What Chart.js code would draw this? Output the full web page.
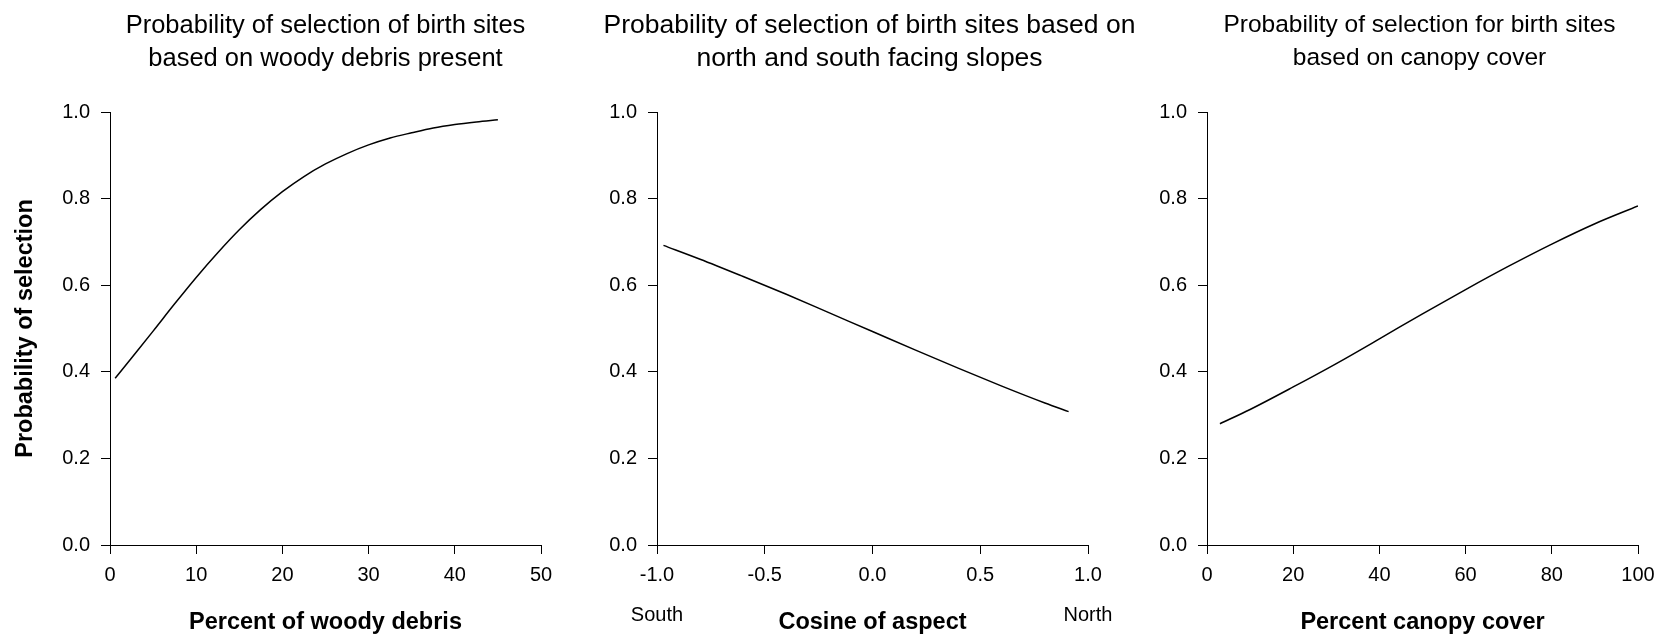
<!DOCTYPE html>
<html><head><meta charset="utf-8">
<script src="https://cdn.jsdelivr.net/npm/chart.js@4/dist/chart.umd.min.js"></script>
<style>
html,body{margin:0;padding:0;background:#fff;}
#wrap{position:relative;width:1667px;height:637px;overflow:hidden;}
#wrap canvas{position:absolute;left:0;top:0;}
</style></head><body>
<div id="wrap">
<canvas id="c1" width="1667" height="637"></canvas>
<canvas id="c2" width="1667" height="637"></canvas>
<canvas id="c3" width="1667" height="637"></canvas>
</div>
<script>
// ---- data ----
const woodyX = [0.6, 2.5, 5, 7.5, 10, 12.5, 15, 17.5, 20, 22.5, 25, 27.5, 30, 32.5, 35, 37.5, 40, 42.5, 45];
const woodyP = [0.385, 0.432, 0.494, 0.557, 0.618, 0.675, 0.728, 0.775, 0.816, 0.851, 0.880, 0.904, 0.924, 0.940, 0.952, 0.963, 0.971, 0.977, 0.982];

const aspectX = [-0.97, -0.8, -0.6, -0.4, -0.2, 0, 0.2, 0.4, 0.6, 0.8, 0.91];
const aspectP = [0.692, 0.660, 0.620, 0.579, 0.536, 0.493, 0.450, 0.408, 0.367, 0.328, 0.308];

const canopyX = [3, 10, 20, 30, 40, 50, 60, 70, 80, 90, 100];
const canopyP = [0.280, 0.313, 0.365, 0.419, 0.476, 0.534, 0.590, 0.644, 0.695, 0.742, 0.783];

const titles = [
  ["Probability of selection of birth sites", "based on woody debris present"],
  ["Probability of selection of birth sites based on", "north and south facing slopes"],
  ["Probability of selection for birth sites", "based on canopy cover"]
];
const xTitles = ["Percent of woody debris", "Cosine of aspect", "Percent canopy cover"];
const yTitle = "Probability of selection";
const aspectEnds = ["South", "North"];
const aspectEndValues = [-1, 1];

const xRanges = [[0, 50, 10], [-1, 1, 0.5], [0, 100, 20]];
const yRange = [0, 1, 0.2];

// ---- drawing ----
const FONT = "'Liberation Sans', Arial, Helvetica, sans-serif";

const extraText = {
  id: 'extraText',
  afterDraw(chart, args, opts) {
    const ctx = chart.ctx, ca = chart.chartArea;
    ctx.save();
    ctx.fillStyle = '#000';
    ctx.textAlign = 'center';
    ctx.textBaseline = 'middle';
    if (opts.title) {
      ctx.font = opts.titleSize + "px " + FONT;
      const cx = (ca.left + ca.right) / 2 + (opts.titleDx || 0);
      opts.title.forEach((t, i) => ctx.fillText(t, cx, opts.titleY[i]));
    }
    if (opts.labels) {
      const xs = chart.scales.x;
      ctx.font = "20px " + FONT;
      opts.labels.forEach((t, i) => ctx.fillText(t, xs.getPixelForValue(opts.values[i]), opts.y));
    }
    ctx.restore();
  }
};

function pts(xs, ys) { return xs.map((x, i) => ({x: x, y: ys[i]})); }

function makeChart(id, idx, xs, ys, padLeft, padRight, yWidth, showYTitle, decimalsX, ends, titleSize, titleDx) {
  const xr = xRanges[idx];
  const gridOpts = {display: true, drawOnChartArea: false, drawTicks: true, tickLength: 9, color: '#000', lineWidth: 1};
  const extra = {title: titles[idx], titleSize: titleSize, titleDx: titleDx, titleY: [25.5, 58.5]};
  if (ends) { extra.labels = aspectEnds; extra.values = aspectEndValues; extra.y = 615; }
  new Chart(document.getElementById(id), {
    type: 'line',
    data: {datasets: [{data: pts(xs, ys), borderColor: '#000', borderWidth: 1.5, pointRadius: 0,
      fill: false, cubicInterpolationMode: 'monotone'}]},
    plugins: [extraText],
    options: {
      responsive: false, animation: false, events: [],
      layout: {padding: {left: padLeft, right: padRight, top: 112, bottom: 0}},
      plugins: {
        legend: {display: false}, tooltip: {enabled: false}, title: {display: false},
        extraText: extra
      },
      scales: {
        x: {type: 'linear', min: xr[0], max: xr[1],
          ticks: {stepSize: xr[2], color: '#000', font: {family: FONT, size: 20}, padding: 9,
            autoSkip: false, maxRotation: 0,
            callback: v => decimalsX ? v.toFixed(1) : String(Math.round(v))},
          grid: gridOpts,
          border: {display: true, color: '#000', width: 1},
          title: {display: true, text: xTitles[idx], color: '#000',
            font: {family: FONT, size: 23.5, weight: 'bold'}, padding: {top: 0, bottom: 0}},
          afterFit: s => { s.height = 92; }
        },
        y: {min: yRange[0], max: yRange[1],
          ticks: {stepSize: yRange[2], color: '#000', font: {family: FONT, size: 20}, padding: 11,
            callback: v => v.toFixed(1)},
          grid: gridOpts,
          border: {display: true, color: '#000', width: 1},
          title: {display: showYTitle, text: yTitle, color: '#000',
            font: {family: FONT, size: 23.5, weight: 'bold'}, padding: {top: 11, bottom: 0}},
          afterFit: s => { s.width = yWidth; }
        }
      }
    }
  });
}

makeChart('c1', 0, woodyX, woodyP, 0, 1667 - 541, 110, true, false, false, 25.5, 0);
makeChart('c2', 1, aspectX, aspectP, 657 - 60, 1667 - 1088, 60, false, true, true, 26.5, -3);
makeChart('c3', 2, canopyX, canopyP, 1207 - 60, 1667 - 1638, 60, false, false, false, 24.5, -3);
</script>
</body></html>
